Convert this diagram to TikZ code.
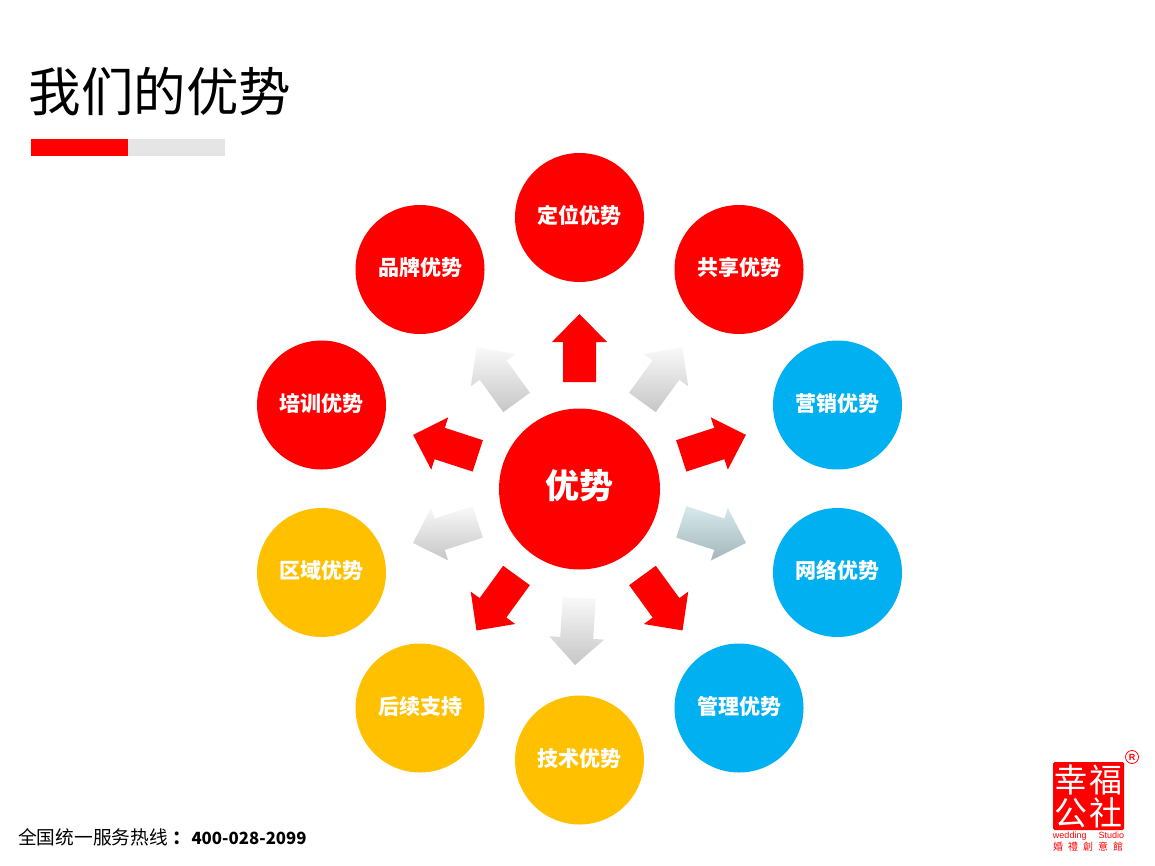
\documentclass[tikz,border=0pt]{standalone}
\usepackage{fontspec}
\setmainfont{Noto Sans CJK SC}
\newfontfamily\latinf{Liberation Sans}
\usetikzlibrary{calc}
\definecolor{myred}{HTML}{FF0000}
\definecolor{myblue}{HTML}{00B0F0}
\definecolor{myyellow}{HTML}{FFC000}
\definecolor{graytop}{HTML}{F9F9F9}
\definecolor{graybot}{HTML}{C6C6C6}
\definecolor{tealtop}{HTML}{D6EAEE}
\definecolor{tealbot}{HTML}{A4B6BA}
\tikzset{
  x=1pt,y=-1pt,
  outer/.style={circle,minimum size=129pt,inner sep=0pt,text=white,text height=14pt,text depth=2pt,font=\fontsize{21}{21}\selectfont\bfseries},
  redc/.style={outer,fill=myred},
  bluec/.style={outer,fill=myblue},
  yelc/.style={outer,fill=myyellow},
  hub/.style={circle,minimum size=161pt,inner sep=0pt,fill=myred,text=white,text height=20pt,text depth=0.2pt,font=\fontsize{34}{34}\selectfont\bfseries},
  redarrow/.style={fill=myred},
  grayarrow/.style={top color=graytop,bottom color=graybot},
  tealarrow/.style={top color=tealtop,bottom color=tealbot},
  logoch/.style={text=white,inner sep=0pt,font=\fontsize{33}{33}\selectfont},
}
% #1 style, #2 base, #3 tip
\newcommand{\blockarrow}[3]{%
  \path[#1]
    ($(#2)!16.5pt!90:(#3)$) --
    ($(#2)!16.5pt!-90:(#3)$) --
    ($($(#2)!40pt!(#3)$)!16.5pt!-90:(#3)$) --
    ($($(#2)!40pt!(#3)$)!27.5pt!-90:(#3)$) --
    (#3) --
    ($($(#2)!40pt!(#3)$)!27.5pt!90:(#3)$) --
    ($($(#2)!40pt!(#3)$)!16.5pt!90:(#3)$) -- cycle;
}
% #1 style, #2 target node
\newcommand{\spoke}[2]{%
  \coordinate (b#2) at ($(hubc)!107pt!(#2)$);
  \coordinate (t#2) at ($(hubc)!175pt!(#2)$);
  \blockarrow{#1}{b#2}{t#2}%
}
\begin{document}
\begin{tikzpicture}
\useasboundingbox (0,0) rectangle (1155,866);
\fill[white] (0,0) rectangle (1155,866);

\node[anchor=west,inner sep=0pt,font=\fontsize{52.5}{53}\selectfont] (title) at (28.5,92) {我们的优势};
\fill[black!10] (127,139) rectangle (225,156);
\fill[myred] (31,139) rectangle (127.5,156);

\node[hub] (hubc) at (579.5,489) {优势};
\node[redc] (a1) at (579.5,217.5) {定位优势};
\node[redc] (a2) at (739,269.5) {共享优势};
\node[bluec] (a3) at (837.5,405) {营销优势};
\node[bluec] (a4) at (837.5,572.5) {网络优势};
\node[bluec] (a5) at (739,708) {管理优势};
\node[yelc] (a6) at (579.5,760) {技术优势};
\node[yelc] (a7) at (420,708) {后续支持};
\node[yelc] (a8) at (321.5,572.5) {区域优势};
\node[redc] (a9) at (321.5,405) {培训优势};
\node[redc] (a10) at (420,269.5) {品牌优势};

\spoke{redarrow}{a1}
\spoke{grayarrow}{a2}
\spoke{redarrow}{a3}
\spoke{tealarrow}{a4}
\spoke{redarrow}{a5}
\coordinate (b6) at (579.2,598);
\coordinate (t6) at (575,665);
\blockarrow{grayarrow}{b6}{t6}
\spoke{redarrow}{a7}
\spoke{grayarrow}{a8}
\spoke{redarrow}{a9}
\spoke{grayarrow}{a10}

\node[anchor=west,inner sep=0pt,font=\fontsize{18.7}{19}\selectfont] (hot) at (18,837) {全国统一服务热线\hspace{5pt}\textbf{：\fontsize{16.8}{19}\selectfont 400-028-2099}};

\fill[myred,rounded corners=1.5pt] (1053,762) rectangle (1124,830);
\node[logoch] (l1) at (1071,780) {幸};
\node[logoch] (l2) at (1106,780) {福};
\node[logoch] (l3) at (1071,813) {公};
\node[logoch] (l4) at (1106,813) {社};
\node[text=myred,inner sep=0pt,font=\latinf\fontsize{9}{9}\selectfont] (l5) at (1088.5,836) {wedding\hspace{12pt}Studio};
\node[text=myred,inner sep=0pt,font=\fontsize{10}{10}\selectfont] (l6) at (1088,847) {婚\hspace{5pt}禮\hspace{5pt}創\hspace{5pt}意\hspace{5pt}館};
\node[circle,draw=myred,line width=0.8pt,text=myred,inner sep=0pt,minimum size=13pt,font=\latinf\fontsize{9}{9}\selectfont\bfseries] (l7) at (1132,757) {R};
\end{tikzpicture}
\end{document}
